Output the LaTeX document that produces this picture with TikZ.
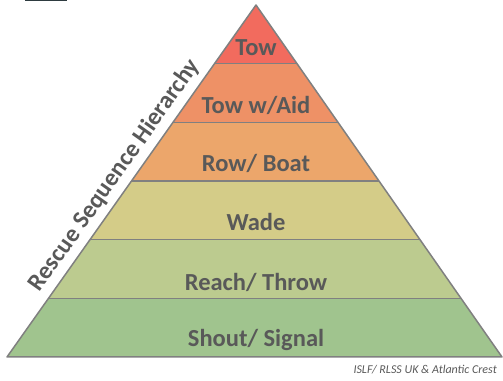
\documentclass[tikz,border=0pt]{standalone}
\usepackage{fontspec}
\setmainfont{Carlito}
\usepackage{tikz}
\definecolor{towred}{HTML}{F26B5E}
\definecolor{aidorange}{HTML}{EE9166}
\definecolor{boatorange}{HTML}{ECA66B}
\definecolor{wadeyellow}{HTML}{D4CC88}
\definecolor{reachgreen}{HTML}{BCCB8F}
\definecolor{shoutgreen}{HTML}{A0C48E}
\definecolor{edgegray}{HTML}{808080}
\definecolor{labelgray}{HTML}{595959}
\definecolor{slate}{HTML}{2E3B40}
\tikzstyle{level} = [font=\bfseries\fontsize{24.5}{26}\selectfont, text=labelgray, inner sep=0pt]
\tikzstyle{sep} = [draw=edgegray, line width=1.5pt]

\begin{document}
\begin{tikzpicture}[x=1pt,y=1pt]
\useasboundingbox (0,0) rectangle (503,380);
\def\pyramid{(7,23) -- (256,375) -- (502,23) -- cycle}
\fill[slate] (25,378.5) rectangle (67,380);
\begin{scope}
  \clip \pyramid;
  \fill[towred] (0,316.3) rectangle (503,380);
  \fill[aidorange] (0,257.7) rectangle (503,316.3);
  \fill[boatorange] (0,199) rectangle (503,257.7);
  \fill[wadeyellow] (0,140.3) rectangle (503,199);
  \fill[reachgreen] (0,81.7) rectangle (503,140.3);
  \fill[shoutgreen] (0,0) rectangle (503,81.7);
  \foreach \y in {316.3,257.7,199,140.3,81.7}
    \draw[sep] (0,\y) -- (503,\y);
\end{scope}
\draw[sep, line join=round] \pyramid;
\node[level] (tow) at (256,332) {Tow};
\node[level] (towaid) at (256,275) {Tow w/Aid};
\node[level] (rowboat) at (256,217) {Row/ Boat};
\node[level] (wade) at (256,158) {Wade};
\node[level] (reach) at (256,98) {Reach/ Throw};
\node[level] (shout) at (256,40) {Shout/ Signal};
\node[level, rotate=54.7, anchor=south] (hierarchy) at (123.5,198.5) {Rescue Sequence Hierarchy};
\node[font=\itshape\fontsize{12}{14}\selectfont, text=labelgray, anchor=base east, inner sep=0pt] (credit) at (497,6) {ISLF/ RLSS UK \& Atlantic Crest};
\end{tikzpicture}
\end{document}
